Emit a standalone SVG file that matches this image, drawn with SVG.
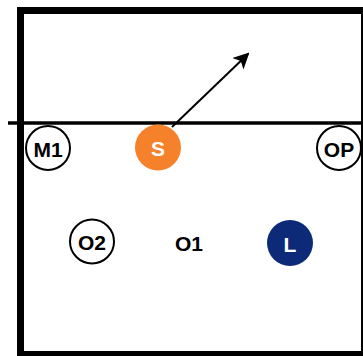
<svg xmlns="http://www.w3.org/2000/svg" width="363" height="356" viewBox="0 0 363 356">
  <style>
    .court { fill: none; stroke: #000; stroke-width: 7; }
    .net { stroke: #000; stroke-width: 3.5; }
    .ring { fill: #fff; stroke: #000; stroke-width: 2; }
    .label { font-family: "Liberation Sans", Arial, sans-serif; font-weight: bold; font-size: 21px; text-anchor: middle; dominant-baseline: central; fill: #000; }
    .light { fill: #fff; }
    .move { stroke: #000; stroke-width: 2; fill: none; }
  </style>
  <defs>
    <marker id="arrowhead" markerWidth="8" markerHeight="8" refX="7" refY="4" orient="auto" markerUnits="strokeWidth">
      <path d="M0,0 L8,4 L0,8 L2,4 Z" fill="#000"/>
    </marker>
  </defs>
  <rect width="363" height="356" fill="#fff"/>

  <!-- court boundary and net -->
  <g id="court">
    <rect class="court" x="20.5" y="10.5" width="344" height="344"/>
    <line class="net" x1="8" y1="123" x2="363" y2="123"/>
  </g>

  <!-- setter movement -->
  <g id="connectors">
    <line class="move" x1="172" y1="127" x2="248" y2="54" marker-end="url(#arrowhead)"/>
  </g>

  <g id="M1">
    <circle class="ring" cx="48" cy="148" r="22"/>
    <text class="label" x="48" y="149">M1</text>
  </g>
  <g id="S">
    <circle cx="158" cy="147.5" r="23" fill="#F5822A"/>
    <text class="label light" x="158" y="148.5">S</text>
  </g>
  <g id="OP">
    <circle class="ring" cx="339" cy="148" r="22"/>
    <text class="label" x="339" y="149">OP</text>
  </g>
  <g id="O2">
    <circle class="ring" cx="92" cy="241.5" r="22"/>
    <text class="label" x="92" y="242.5">O2</text>
  </g>
  <g id="O1">
    <text class="label" x="189" y="243">O1</text>
  </g>
  <g id="L">
    <circle cx="290" cy="243" r="23" fill="#0D2A78"/>
    <text class="label light" x="290" y="244">L</text>
  </g>
</svg>
